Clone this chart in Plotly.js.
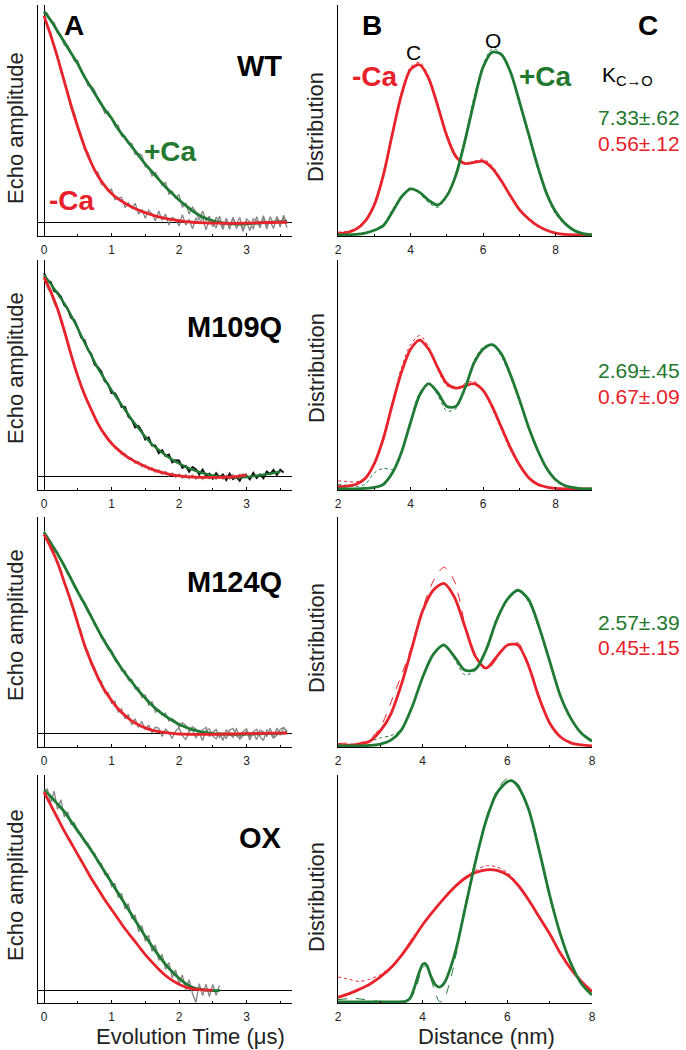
<!DOCTYPE html>
<html><head><meta charset="utf-8">
<script src="https://cdn.plot.ly/plotly-3.0.1.min.js"></script>
<style>html,body{margin:0;padding:0;background:#fff}#chart{width:686px;height:1050px}</style>
</head><body><div id="chart"></div>
<script>
// ---------- DATA ----------
const tFit = [0,0.1,0.2,0.3,0.4,0.5,0.6,0.7,0.8,0.9,1.0,1.1,1.2,1.3,1.4,1.5,1.6,1.7,1.8,1.9,2.0,2.1,2.2,2.3,2.4,2.5,2.6,2.7,2.8,2.9,3.0,3.1,3.2,3.3,3.4,3.5,3.6];
const t05 = [0,0.05,0.1,0.15,0.2,0.25,0.3,0.35,0.4,0.45,0.5,0.55,0.6,0.65,0.7,0.75,0.8,0.85,0.9,0.95,1,1.05,1.1,1.15,1.2,1.25,1.3,1.35,1.4,1.45,1.5,1.55,1.6,1.65,1.7,1.75,1.8,1.85,1.9,1.95,2,2.05,2.1,2.15,2.2,2.25,2.3,2.35,2.4,2.45,2.5,2.55,2.6,2.65,2.7,2.75,2.8,2.85,2.9,2.95,3,3.05,3.1,3.15,3.2,3.25,3.3,3.35,3.4,3.45,3.5,3.55,3.6];

// Panel A: echo decays (fits)
const wtPlusFit = [0.97,0.93,0.88,0.83,0.78,0.73,0.67,0.62,0.57,0.52,0.48,0.43,0.39,0.35,0.31,0.27,0.235,0.20,0.165,0.135,0.105,0.08,0.055,0.035,0.02,0.01,0.003,-0.002,-0.004,-0.005,-0.004,-0.002,0,0.002,0.004,0.005,0.006];
const wtMinusFit = [0.95,0.86,0.76,0.65,0.54,0.44,0.35,0.275,0.215,0.17,0.135,0.11,0.09,0.073,0.059,0.047,0.037,0.028,0.021,0.015,0.01,0.006,0.003,0.001,0,-0.001,-0.001,-0.002,-0.002,-0.002,-0.001,0,0.001,0.002,0.002,0.003,0.003];
const m109PlusFit = [0.93,0.89,0.845,0.80,0.745,0.685,0.62,0.56,0.50,0.45,0.40,0.355,0.31,0.265,0.225,0.185,0.15,0.125,0.10,0.08,0.062,0.047,0.034,0.023,0.014,0.007,0.002,0,-0.002,-0.002,0,0.004,0.008,0.013,0.018,0.024];
const m109MinusFit = [0.92,0.855,0.775,0.675,0.565,0.465,0.38,0.31,0.245,0.195,0.155,0.125,0.10,0.08,0.063,0.048,0.035,0.025,0.017,0.01,0.005,0.002,0,-0.002,-0.002,-0.002,-0.002,-0.001,0,0.004,0.01];
const m124PlusFit = [0.93,0.88,0.83,0.775,0.715,0.655,0.60,0.54,0.48,0.425,0.375,0.325,0.28,0.24,0.20,0.165,0.132,0.105,0.082,0.062,0.045,0.031,0.02,0.012,0.006,0.002,0,-0.001,-0.002,-0.002,-0.001,0,0.001,0.002,0.003,0.004,0.005];
const m124MinusFit = [0.92,0.86,0.79,0.70,0.61,0.51,0.41,0.33,0.26,0.20,0.155,0.115,0.085,0.06,0.042,0.028,0.018,0.011,0.006,0.003,0,-0.001,-0.002,-0.002,-0.002,-0.002,-0.001,0,0,0.001,0.002,0.002,0.003,0.003,0.004,0.004,0.005];
const oxPlusFit = [0.93,0.90,0.865,0.83,0.785,0.74,0.695,0.65,0.60,0.55,0.50,0.45,0.40,0.35,0.30,0.25,0.205,0.16,0.12,0.085,0.055,0.03,0.013,0.004,0,-0.002,-0.002];
const oxMinusFit = [0.92,0.86,0.80,0.74,0.685,0.63,0.575,0.52,0.47,0.42,0.375,0.33,0.285,0.245,0.205,0.165,0.13,0.097,0.068,0.045,0.027,0.014,0.006,0.002,0,0];

// Panel A: measured echo data (noisy)
const wtPlusData = [0.97,0.962,0.922,0.92,0.87,0.861,0.816,0.815,0.784,0.743,0.746,0.694,0.68,0.63,0.628,0.608,0.56,0.55,0.503,0.512,0.483,0.446,0.448,0.398,0.397,0.366,0.365,0.314,0.319,0.31,0.257,0.258,0.215,0.231,0.204,0.171,0.187,0.132,0.145,0.114,0.13,0.072,0.092,0.041,0.073,0.051,0.013,0.055,0.01,0.031,-0.018,0.026,0.007,-0.03,0.022,-0.015,0.026,-0.026,0.005,-0.039,0.018,0.005,-0.028,0.029,-0.014,0.021,-0.028,0.029,-0.004,0.022,-0.019,0.035,-0.004];
const wtMinusData = [0.95,0.895,0.873,0.804,0.771,0.691,0.658,0.598,0.528,0.505,0.435,0.404,0.334,0.322,0.277,0.235,0.232,0.177,0.176,0.144,0.155,0.107,0.114,0.118,0.07,0.092,0.067,0.09,0.041,0.061,0.021,0.058,0.042,0.01,0.055,0.012,0.041,-0.01,0.025,0.016,-0.014,0.038,-0.01,0.016,-0.027,0.024,-0.005,0.026,-0.032,0.014,0.006,-0.024,0.032,-0.018,0.01,-0.029,0.022,-0.006,0.025,-0.031,0.008,-0.036,0.019,0.008,-0.022,0.033,-0.014,0.009,-0.026,0.03,-0.005,0.025,-0.022];
const m109PlusData = [0.94,0.904,0.898,0.857,0.85,0.831,0.793,0.776,0.734,0.723,0.687,0.643,0.631,0.586,0.567,0.518,0.506,0.485,0.442,0.428,0.387,0.386,0.36,0.322,0.322,0.279,0.264,0.228,0.235,0.211,0.173,0.182,0.145,0.145,0.11,0.123,0.097,0.103,0.068,0.077,0.076,0.042,0.051,0.024,0.046,0.036,0.012,0.034,0.005,0.015,-0.008,0.017,-0.002,0.011,-0.014,0.015,-0.01,0.001,-0.017,0.011,0.006,-0.011,0.019,-0.004,0.012,-0.006,0.025,0.013,0.032,0.009,0.033,0.021];
const m109MinusData = [0.925,0.872,0.846,0.798,0.776,0.714,0.677,0.609,0.566,0.503,0.466,0.413,0.386,0.339,0.316,0.27,0.252,0.213,0.201,0.168,0.162,0.133,0.131,0.105,0.108,0.082,0.087,0.063,0.071,0.047,0.056,0.033,0.043,0.021,0.034,0.012,0.026,0.004,0.019,-0.002,0.014,-0.006,0.011,-0.008,0.009,-0.01,0.007,-0.011,0.008,-0.009,0.006,-0.012,0.007,-0.01,0.008,-0.009,0.01,-0.006,0.013,-0.002,0.018];
const m124PlusData = [0.935,0.898,0.888,0.846,0.838,0.795,0.781,0.737,0.722,0.677,0.662,0.618,0.607,0.562,0.549,0.501,0.488,0.443,0.434,0.39,0.386,0.339,0.334,0.291,0.292,0.248,0.252,0.207,0.214,0.168,0.18,0.133,0.15,0.1,0.112,0.088,0.096,0.06,0.071,0.058,0.03,0.052,0.041,0.014,0.034,0.022,-0.004,0.018,0.031,-0.012,0.008,0.021,-0.016,0.004,-0.022,0.017,0.026,-0.008,-0.02,0.012,0.024,-0.014,0.006,-0.026,0.018,0.01,-0.012,0.027,-0.018,-0.006,0.022,0.03,0.012];
const m124MinusData = [0.915,0.897,0.852,0.834,0.781,0.757,0.691,0.664,0.602,0.571,0.498,0.472,0.401,0.382,0.318,0.306,0.248,0.243,0.19,0.19,0.142,0.151,0.101,0.116,0.07,0.09,0.042,0.07,0.03,0.058,0.02,0.041,0.004,0.032,0.026,-0.012,0.022,0.006,-0.02,0.014,0.028,-0.008,-0.026,0.01,0.02,-0.018,0.004,-0.03,0.016,0.024,-0.01,-0.022,0.008,-0.03,0.02,0.002,-0.016,0.026,-0.024,-0.008,0.014,-0.028,0.01,0.022,-0.012,-0.03,0.018,0.004,-0.02,0.028,-0.006,0.03,0.008];
const oxPlusData = [0.93,0.935,0.872,0.925,0.84,0.885,0.805,0.83,0.77,0.778,0.732,0.728,0.686,0.683,0.641,0.636,0.59,0.588,0.536,0.54,0.482,0.497,0.43,0.45,0.377,0.402,0.33,0.35,0.272,0.3,0.228,0.255,0.18,0.21,0.138,0.166,0.096,0.128,0.058,0.094,0.028,0.07,0.002,0.048,-0.016,-0.058,0.03,-0.026,0.028,-0.03,0.026,-0.024,0.022];

// Panel B: distance distributions
const r9 = [2,2.25,2.5,2.75,3,3.25,3.5,3.75,4,4.25,4.5,4.75,5,5.25,5.5,5.75,6,6.25,6.5,6.75,7,7.25,7.5,7.75,8,8.25,8.5,8.75,9];
const r8 = [2,2.25,2.5,2.75,3,3.25,3.5,3.75,4,4.25,4.5,4.75,5,5.25,5.5,5.75,6,6.25,6.5,6.75,7,7.25,7.5,7.75,8];
const wtMinusDist = [0.005,0.01,0.025,0.06,0.13,0.26,0.44,0.61,0.72,0.74,0.68,0.56,0.43,0.34,0.31,0.315,0.32,0.29,0.235,0.17,0.11,0.07,0.04,0.02,0.008,0.002,0,0,0];
const wtPlusDist = [0,0,0.002,0.008,0.02,0.04,0.1,0.165,0.2,0.185,0.15,0.13,0.17,0.26,0.41,0.58,0.73,0.795,0.785,0.71,0.58,0.44,0.3,0.18,0.1,0.05,0.02,0.005,0];
const wtMinusDot = [0.012,0.015,0.03,0.065,0.14,0.27,0.45,0.62,0.73,0.75,0.69,0.57,0.44,0.35,0.31,0.32,0.33,0.3,0.24,0.17,0.105,0.065,0.035,0.018,0.006,0.001,0,0,0];
const wtPlusDot = [0.004,0.002,0.004,0.01,0.022,0.045,0.11,0.17,0.205,0.18,0.14,0.12,0.17,0.27,0.42,0.6,0.74,0.81,0.79,0.71,0.57,0.43,0.29,0.17,0.09,0.045,0.015,0.003,0];
const m109MinusDist = [0.01,0.012,0.02,0.045,0.11,0.22,0.37,0.51,0.61,0.65,0.61,0.53,0.46,0.44,0.45,0.46,0.43,0.36,0.27,0.18,0.105,0.05,0.02,0.008,0.002,0,0,0,0];
const m109PlusDist = [0,0,0,0.002,0.006,0.02,0.07,0.16,0.29,0.41,0.46,0.42,0.36,0.36,0.44,0.55,0.61,0.63,0.59,0.5,0.39,0.27,0.17,0.09,0.04,0.015,0.005,0,0];
const m109MinusDot = [0.035,0.032,0.03,0.05,0.11,0.23,0.38,0.53,0.63,0.67,0.62,0.52,0.45,0.44,0.46,0.47,0.43,0.35,0.26,0.17,0.1,0.045,0.018,0.006,0.001,0,0,0,0];
const m109PlusDot = [0.02,0.015,0.01,0.02,0.07,0.09,0.085,0.16,0.3,0.42,0.46,0.41,0.34,0.35,0.44,0.56,0.62,0.63,0.58,0.49,0.38,0.27,0.17,0.085,0.035,0.01,0.002,0,0];
const m124MinusDist = [0,0.003,0.008,0.02,0.065,0.14,0.27,0.43,0.59,0.68,0.71,0.65,0.52,0.39,0.34,0.39,0.44,0.44,0.35,0.21,0.1,0.04,0.013,0.004,0];
const m124PlusDist = [0,0,0,0.002,0.008,0.025,0.07,0.17,0.3,0.4,0.44,0.39,0.33,0.335,0.42,0.55,0.64,0.68,0.64,0.52,0.37,0.22,0.12,0.055,0.02];
const m124MinusDot = [0.01,0.012,0.012,0.03,0.08,0.19,0.31,0.44,0.6,0.72,0.78,0.72,0.53,0.39,0.33,0.38,0.44,0.45,0.36,0.22,0.1,0.04,0.014,0.005,0];
const m124PlusDot = [0.005,0.006,0.01,0.02,0.035,0.045,0.07,0.17,0.3,0.4,0.445,0.38,0.31,0.33,0.42,0.56,0.64,0.68,0.63,0.51,0.36,0.22,0.12,0.055,0.025];
const oxMinusDist = [0.02,0.035,0.055,0.078,0.11,0.15,0.205,0.27,0.34,0.4,0.455,0.505,0.545,0.57,0.582,0.58,0.56,0.515,0.45,0.375,0.3,0.215,0.145,0.09,0.045];
const oxMinusDot = [0.11,0.1,0.09,0.1,0.12,0.155,0.205,0.28,0.34,0.4,0.46,0.51,0.55,0.58,0.6,0.595,0.57,0.52,0.455,0.375,0.3,0.215,0.145,0.09,0.05];
const oxPlusR = [2.0,2.5,3.0,3.4,3.6,3.7,3.8,3.9,4.0,4.05,4.1,4.2,4.3,4.4,4.5,4.6,4.8,5.0,5.25,5.5,5.75,6.0,6.1,6.25,6.5,6.75,7.0,7.25,7.5,7.75,8.0];
const oxPlusDist = [0,0,0,0,0.002,0.015,0.06,0.12,0.165,0.17,0.16,0.11,0.075,0.065,0.08,0.12,0.24,0.41,0.62,0.8,0.92,0.97,0.975,0.95,0.85,0.67,0.47,0.3,0.17,0.08,0.03];
const oxPlusDotR = [2.0,2.4,2.8,3.2,3.6,3.8,4.0,4.1,4.2,4.3,4.4,4.5,4.6,4.7,4.8,5.0,5.25,5.5,5.75,6.0,6.25,6.5,6.75,7.0,7.25,7.5,7.75,8.0];
const oxPlusDot = [0.01,0.015,0.005,0,0,0.04,0.15,0.16,0.1,0.04,0.0,0.01,0.06,0.13,0.22,0.42,0.63,0.81,0.93,0.985,0.96,0.85,0.66,0.46,0.3,0.17,0.08,0.02];

// Text labels
const panelLabels = ['A','B','C'];
const mutants = ['WT','M109Q','M124Q','OX'];
const kPlus = ['7.33±.62','2.69±.45','2.57±.39'];
const kMinus = ['0.56±.12','0.67±.09','0.45±.15'];
const timeTicks = [0,1,2,3];
const distTicks = [2,4,6,8];

// ---------- STYLE ----------
const GREEN = '#1f7a33', RED = '#e8232b', GREY = '#858585';
const GREEN_T = '#22782e', RED_T = '#e8202a';
const FONT = 'Liberation Sans, Arial, sans-serif';
const W = 686, H = 1050;
const px = v => v / W, py = v => 1 - v / H;

function tr(x, y, n, color, width, shape, dash) {
  const s = n === 1 ? '' : String(n);
  return {type:'scatter', mode:'lines', x:x, y:y, xaxis:'x'+s, yaxis:'y'+s,
    line:{color:color, width:width, shape:shape||'linear', dash:dash||'solid', smoothing:0.8},
    hoverinfo:'skip', showlegend:false};
}

const traces = [
  // WT
  tr(t05, wtPlusData, 1, GREY, 1.3), tr(t05, wtMinusData, 1, GREY, 1.3),
  tr(tFit, wtPlusFit, 1, GREEN, 2.8, 'spline'), tr(tFit, wtMinusFit, 1, RED, 2.8, 'spline'),
  tr(r9, wtMinusDot, 2, RED, 1, 'spline', 'dot'), tr(r9, wtPlusDot, 2, GREEN, 1, 'spline', 'dot'),
  tr(r9, wtMinusDist, 2, RED, 2.8, 'spline'), tr(r9, wtPlusDist, 2, GREEN, 2.8, 'spline'),
  // M109Q
  tr(t05, m109MinusData, 3, '#a08c8c', 1.3), tr(t05, m109PlusData, 3, '#151515', 2),
  tr(tFit, m109PlusFit, 3, GREEN, 2.4, 'spline'), tr(tFit, m109MinusFit, 3, RED, 2.8, 'spline'),
  tr(r9, m109MinusDot, 4, RED, 1, 'spline', 'dot'), tr(r9, m109PlusDot, 4, GREEN, 1, 'spline', 'dot'),
  tr(r9, m109MinusDist, 4, RED, 2.8, 'spline'), tr(r9, m109PlusDist, 4, GREEN, 2.8, 'spline'),
  // M124Q
  tr(t05, m124PlusData, 5, GREY, 1.3), tr(t05, m124MinusData, 5, GREY, 1.3),
  tr(tFit, m124PlusFit, 5, GREEN, 2.8, 'spline'), tr(tFit, m124MinusFit, 5, RED, 2.8, 'spline'),
  tr(r8, m124MinusDot, 6, RED, 1, 'spline', 'dash'), tr(r8, m124PlusDot, 6, GREEN, 1, 'spline', 'dot'),
  tr(r8, m124MinusDist, 6, RED, 2.8, 'spline'), tr(r8, m124PlusDist, 6, GREEN, 2.8, 'spline'),
  // OX
  tr(t05, oxPlusData, 7, GREY, 1.3),
  tr(tFit, oxPlusFit, 7, GREEN, 2.8, 'spline'), tr(tFit, oxMinusFit, 7, RED, 2.8, 'spline'),
  tr(r8, oxMinusDot, 8, RED, 1, 'spline', 'dot'), tr(oxPlusDotR, oxPlusDot, 8, GREEN, 1, 'spline', 'dash'),
  tr(r8, oxMinusDist, 8, RED, 2.8, 'spline'), tr(oxPlusR, oxPlusDist, 8, GREEN, 2.8, 'spline')
];

// ---------- LAYOUT ----------
const rowDomains = [[py(236), py(5)], [py(490), py(260)], [py(747), py(517)], [py(1003), py(775)]];
const distMax = [9, 9, 8, 8];
const layout = {
  width: W, height: H, margin:{l:0, r:0, t:0, b:0},
  paper_bgcolor:'#fff', plot_bgcolor:'rgba(0,0,0,0)',
  font:{family: FONT, color:'#000'}, showlegend:false, annotations:[]
};
const baseX = {showline:true, linecolor:'#000', linewidth:1, ticks:'inside', ticklen:3, tickcolor:'#000',
  showgrid:false, tickfont:{size:12, color:'#222'}, ticklabelstandoff:3, fixedrange:true};
const baseY = {showline:true, linecolor:'#000', linewidth:1, ticks:'', showticklabels:false, showgrid:false, fixedrange:true};
for (let i = 0; i < 4; i++) {
  const a = 2*i + 1, b = 2*i + 2;
  const ka = a === 1 ? '' : a;
  layout['xaxis'+ka] = Object.assign({}, baseX, {domain:[px(38), px(292)], anchor:'y'+ka, range:[-0.089, 3.674],
    tickvals: timeTicks, zeroline:true, zerolinecolor:'#000', zerolinewidth:1,
    minor:{ticks:'inside', ticklen:2, tickcolor:'#000', dtick:0.5, tick0:0, showgrid:false}});
  layout['yaxis'+ka] = Object.assign({}, baseY, {domain: rowDomains[i], anchor:'x'+ka, range:[-0.06, 1.0],
    zeroline:true, zerolinecolor:'#000', zerolinewidth:1});
  layout['xaxis'+b] = Object.assign({}, baseX, {domain:[px(338), px(592)], anchor:'y'+b, range:[2, distMax[i]],
    tickvals: distTicks, zeroline:false,
    minor:{ticks:'inside', ticklen:2, tickcolor:'#000', dtick:1, tick0:0, showgrid:false}});
  layout['yaxis'+b] = Object.assign({}, baseY, {domain: rowDomains[i], anchor:'x'+b, range:[-0.005, 1.0], zeroline:false});
}

function ann(text, x, y, size, color, opt) {
  layout.annotations.push(Object.assign({text:text, x:px(x), y:py(y), xref:'paper', yref:'paper',
    showarrow:false, xanchor:'center', yanchor:'middle', font:{family:FONT, size:size, color:color}}, opt||{}));
}
// Panel letters
ann('<b>'+panelLabels[0]+'</b>', 74, 25, 28, '#000');
ann('<b>'+panelLabels[1]+'</b>', 372, 25, 28, '#000');
ann('<b>'+panelLabels[2]+'</b>', 648, 25, 28, '#000');
// Mutant names
const mutY = [66, 327, 582, 838];
mutants.forEach((m, i) => ann('<b>'+m+'</b>', 284, mutY[i], 29, '#000', {xanchor:'right'}));
// Ca labels
ann('<b>+Ca</b>', 170, 151, 28, GREEN_T);
ann('<b>-Ca</b>', 72, 200, 28, RED_T);
ann('<b>-Ca</b>', 375, 76, 28, RED_T);
ann('<b>+Ca</b>', 545, 76, 28, GREEN_T);
ann('C', 413, 53, 21, '#000');
ann('O', 493, 41, 21, '#000');
ann('K<sub>C→O</sub>', 600, 76, 21, '#000', {xanchor:'left'});
// K values
const kpY = [118, 370, 622], kmY = [143, 396, 647];
kPlus.forEach((k, i) => ann(k, 682, kpY[i], 21, GREEN_T, {xanchor:'right'}));
kMinus.forEach((k, i) => ann(k, 682, kmY[i], 21, RED_T, {xanchor:'right'}));
// Axis titles
const echoY = [128, 368, 625, 885], distY = [127, 368, 638, 897];
echoY.forEach(y => ann('Echo amplitude', 15, y, 22, '#222', {textangle:-90}));
distY.forEach(y => ann('Distribution', 316, y, 22, '#222', {textangle:-90}));
ann('Evolution Time (μs)', 190, 1036, 22, '#222');
ann('Distance (nm)', 486, 1036, 22, '#222');

Plotly.newPlot('chart', traces, layout, {displayModeBar:false, staticPlot:true});
</script></body></html>
